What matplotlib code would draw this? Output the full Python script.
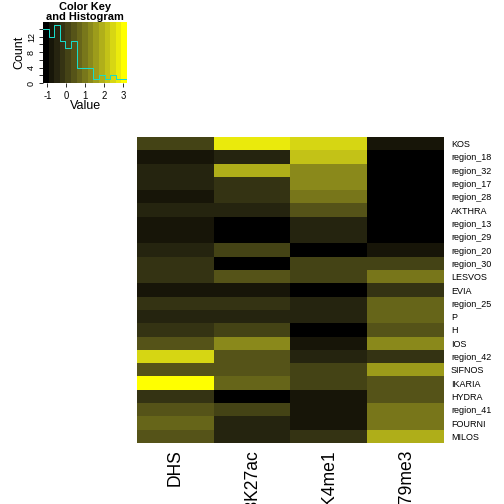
import numpy as np
import matplotlib
matplotlib.use("Agg")
import matplotlib.pyplot as plt
from matplotlib.colors import ListedColormap, BoundaryNorm

plt.rcParams['font.family'] = ['Liberation Sans', 'DejaVu Sans']

# ---------------- data ----------------
rows = ["KOS", "region_18", "region_32", "region_17", "region_28", "AKTHRA",
        "region_13", "region_29", "region_20", "region_30", "LESVOS", "EVIA",
        "region_25", "P", "H", "IOS", "region_42", "SIFNOS", "IKARIA", "HYDRA",
        "region_41", "FOURNI", "MILOS"]
cols = ["DHS", "H3K27ac", "H3K4me1", "H3K79me3"]

dhs = [0.10, -0.80, -0.50, -0.45, -0.85, -0.55, -0.78, -0.82, -0.52, -0.20, -0.15, -0.75,
       -0.22, -0.48, -0.18, 0.40, 2.45, 0.35, 3.21, -0.25, 0.42, 0.70, 0.38]
h3k27ac = [2.75, -0.50, 1.85, -0.20, -0.22, -0.45, -1.10, -1.05, 0.08, -1.23, 0.40, -0.80,
           -0.18, -0.55, 0.12, 1.30, 0.38, 0.45, 0.68, -1.12, 0.05, -0.48, -0.52]
h3k4me1 = [2.50, 2.15, 1.28, 1.25, 0.98, 0.40, -0.50, -0.55, -1.15, 0.10, 0.15, -1.08,
           -0.45, -0.50, -1.00, -0.80, -0.42, 0.05, 0.12, -0.72, -0.76, -0.78, -0.15]
h3k79me3 = [-0.85, -1.20, -1.18, -1.16, -1.19, -1.17, -1.15, -1.12, -0.70, 0.06, 1.00, -0.18,
            0.65, 0.70, 0.35, 1.30, -0.25, 1.60, 0.30, 0.32, 0.95, 0.92, 1.90]

key_xticks = [-1, 0, 1, 2, 3]
key_yticks = [0, 2, 4, 6, 8, 10, 12, 14]
key_ylabels = ["0", "", "4", "", "8", "", "12", ""]

# ---------------- palette: black -> yellow interpolated in Lab ----------------
def lab_to_srgb(L, a, b):
    fy = (L + 16) / 116.0
    fx = fy + a / 500.0
    fz = fy - b / 200.0
    def finv(f):
        return f ** 3 if f ** 3 > 0.008856 else (f - 16 / 116.0) / 7.787
    X = 0.95047 * finv(fx); Y = 1.0 * finv(fy); Z = 1.08883 * finv(fz)
    r = 3.2406 * X - 1.5372 * Y - 0.4986 * Z
    g = -0.9689 * X + 1.8758 * Y + 0.0415 * Z
    bb = 0.0557 * X - 0.2040 * Y + 1.0570 * Z
    def gam(c):
        c = max(0.0, c)
        c = 12.92 * c if c <= 0.0031308 else 1.055 * c ** (1 / 2.4) - 0.055
        return min(1.0, max(0.0, c))
    return (gam(r), gam(g), gam(bb))

ncol = 15
yellow_lab = (97.14, -21.55, 94.48)
palette = [lab_to_srgb(*(t * v for v in yellow_lab)) for t in np.linspace(0, 1, ncol)]
cmap = ListedColormap(palette)

mat = np.array([dhs, h3k27ac, h3k4me1, h3k79me3]).T
vmin, vmax = mat.min(), mat.max()
breaks = np.linspace(vmin, vmax, ncol + 1)
norm = BoundaryNorm(breaks, ncol)

# ---------------- figure ----------------
W = H = 504
fig = plt.figure(figsize=(7, 7), dpi=72)

def px_axes(x0, y0, x1, y1):
    return fig.add_axes([x0 / W, 1 - y1 / H, (x1 - x0) / W, (y1 - y0) / H])

# heatmap
ax = px_axes(137, 137, 444, 443)
ax.imshow(mat, cmap=cmap, norm=norm, aspect='auto', interpolation='nearest')
for s in ax.spines.values():
    s.set_visible(False)
ax.yaxis.tick_right()
ax.set_yticks(range(len(rows)))
ax.set_yticklabels(rows, fontsize=9)
ax.set_xticks(range(len(cols)))
ax.set_xticklabels(cols, rotation=90, fontsize=17.5, va='top', ha='center')
ax.tick_params(axis='both', length=0)
ax.tick_params(axis='y', pad=7)
ax.tick_params(axis='x', pad=6)

# color key + histogram
kx = px_axes(43, 22, 127, 83)
kx.pcolormesh(breaks, [0, 1], np.arange(ncol)[None, :], cmap=cmap,
              norm=BoundaryNorm(np.arange(ncol + 1) - 0.5, ncol))
counts, _ = np.histogram(mat.ravel(), bins=breaks)
hy = np.append(counts, counts[-1]) / counts.max() * 0.95
kx.step(breaks, hy, where='post', color='#18dcc8', lw=1.0)
kx.set_xlim(vmin, vmax)
kx.set_ylim(0, 1)
kx.set_xticks(key_xticks)
kx.set_xticklabels([str(t) for t in key_xticks], fontsize=9.5)
kx.set_yticks(np.array(key_yticks) / counts.max() * 0.95)
kx.set_yticklabels(key_ylabels, fontsize=9, rotation=90, va='center')
kx.tick_params(length=4, width=0.8)
kx.tick_params(axis='x', pad=4)
kx.tick_params(axis='y', pad=3)
for s in kx.spines.values():
    s.set_visible(False)
kx.set_xlabel("Value", fontsize=12.5, labelpad=-1)
kx.set_ylabel("Count", fontsize=12.5, labelpad=2)
fig.text(85 / W, 1 - 9.5 / H, "Color Key", fontsize=11, fontweight='bold',
         ha='center', va='baseline')
fig.text(85 / W, 1 - 20 / H, "and Histogram", fontsize=11, fontweight='bold',
         ha='center', va='baseline')

fig.savefig("out.png", dpi=72)
